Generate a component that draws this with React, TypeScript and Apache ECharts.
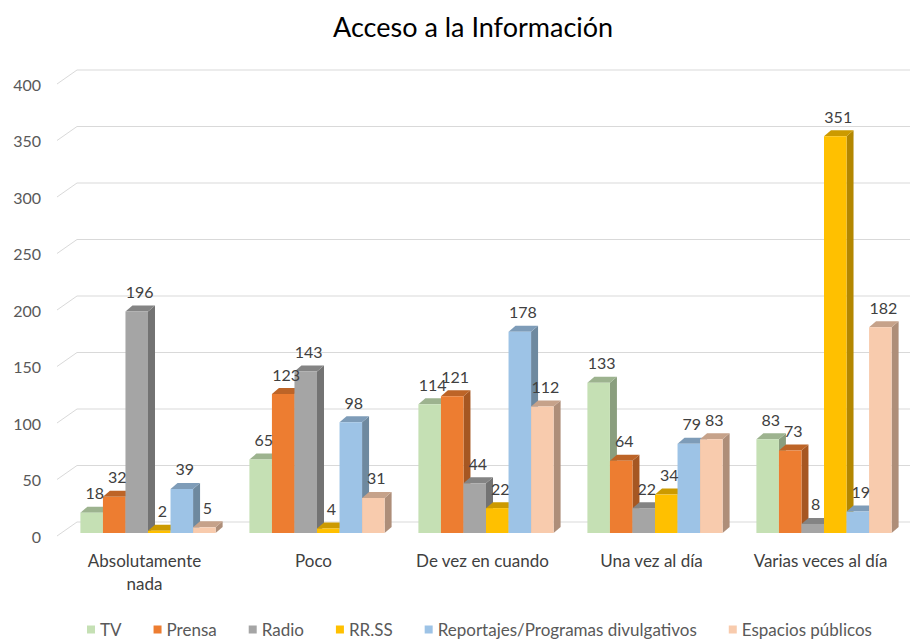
import React, { useEffect, useRef } from "react";
import * as echarts from "echarts";

const categories = ["Absolutamente\nnada", "Poco", "De vez en cuando", "Una vez al día", "Varias veces al día"];
const seriesNames = ["TV", "Prensa", "Radio", "RR.SS", "Reportajes/Programas divulgativos", "Espacios públicos"];
const tv = [18, 65, 114, 133, 83];
const prensa = [32, 123, 121, 64, 73];
const radio = [196, 143, 44, 22, 8];
const rrss = [2, 4, 22, 34, 351];
const reportajes = [39, 98, 178, 79, 19];
const espacios = [5, 31, 112, 83, 182];
const yTicks = [0, 50, 100, 150, 200, 250, 300, 350, 400];

const seriesValues = [tv, prensa, radio, rrss, reportajes, espacios];
const frontColors = ["#C5E0B4", "#ED7D31", "#A5A5A5", "#FFC000", "#9DC3E6", "#F8CBAD"];
const topColors = ["#9DB38F", "#BD6427", "#848484", "#CC9A00", "#7E9CB8", "#C6A28A"];
const sideColors = ["#8A9E7E", "#A65722", "#737373", "#B38700", "#6E899F", "#AE8E79"];

export default function App() {
  const ref = useRef<HTMLDivElement>(null);
  useEffect(() => {
    if (!ref.current) return;
    document.body.style.margin = "0";
    const chart = echarts.init(ref.current, null, { renderer: "svg" });
    const nS = seriesValues.length;
    const DX = 7, DY = -6;

    const gridSeries: any = {
      type: "custom",
      silent: true,
      z: 1,
      data: yTicks.map((v) => [0, v]),
      renderItem: (params: any, api: any) => {
        const cs = params.coordSys;
        const y = api.coord([0, api.value(1)])[1];
        const x = cs.x - 3;
        return {
          type: "polyline",
          shape: { points: [[x, y], [x + 20, y - 14], [910, y - 14]] },
          style: { stroke: "#D9D9D9", lineWidth: 1, fill: null },
        };
      },
    };

    const barSeries = seriesValues.map((vals, i) => ({
      type: "custom",
      name: seriesNames[i],
      z: 2,
      itemStyle: { color: frontColors[i] },
      data: vals.map((v, c) => [c, v]),
      renderItem: (params: any, api: any) => {
        const cat = api.value(0);
        const val = api.value(1);
        const top = api.coord([cat, val]);
        const base = api.coord([cat, 0]);
        const band = api.size([1, 0])[0];
        const bw = (band * 0.8) / nS;
        const x0 = top[0] - band * 0.4 + i * bw + 3.5;
        const x1 = x0 + bw;
        const yt = top[1] - 3;
        const yb = base[1] - 3;
        return {
          type: "group",
          children: [
            {
              type: "polygon",
              shape: { points: [[x1, yt], [x1 + DX, yt + DY], [x1 + DX, yb + DY], [x1, yb]] },
              style: { fill: sideColors[i] },
            },
            {
              type: "polygon",
              shape: { points: [[x0, yt], [x1, yt], [x1 + DX, yt + DY], [x0 + DX, yt + DY]] },
              style: { fill: topColors[i] },
            },
            {
              type: "rect",
              shape: { x: x0, y: yt, width: bw, height: yb - yt },
              style: { fill: frontColors[i] },
            },
            {
              type: "text",
              z2: 100,
              style: {
                x: x0 + bw / 2 + 3,
                y: yt - 20,
                text: String(val),
                align: "center",
                verticalAlign: "middle",
                fill: "#404040",
                font: "16px Lato",
              },
            },
          ],
        };
      },
    }));

    chart.setOption({
      animation: false,
      backgroundColor: "#FFFFFF",
      title: {
        text: "Acceso a la Información",
        left: 328,
        top: 8,
        textStyle: { fontFamily: "Lato", fontSize: 27, fontWeight: "normal", color: "#000000" },
      },
      legend: {
        data: seriesNames,
        left: 82,
        top: 616,
        icon: "rect",
        itemWidth: 8,
        itemHeight: 8,
        itemGap: 32,
        textStyle: { fontFamily: "Lato", fontSize: 17, color: "#595959" },
      },
      grid: { left: 60, right: 5, top: 84, bottom: 105 },
      xAxis: {
        type: "category",
        data: categories,
        axisLine: { show: false },
        axisTick: { show: false },
        axisLabel: { margin: 13, fontFamily: "Lato", fontSize: 17, color: "#404040", lineHeight: 23, interval: 0 },
      },
      yAxis: {
        type: "value",
        min: 0,
        max: 400,
        interval: 50,
        splitLine: { show: false },
        axisLine: { show: false },
        axisTick: { show: false },
        axisLabel: { margin: 19, fontFamily: "Lato", fontSize: 16, color: "#595959" },
      },
      series: [gridSeries, ...barSeries],
    });
    return () => chart.dispose();
  }, []);
  return <div ref={ref} style={{ width: 910, height: 641 }} />;
}
